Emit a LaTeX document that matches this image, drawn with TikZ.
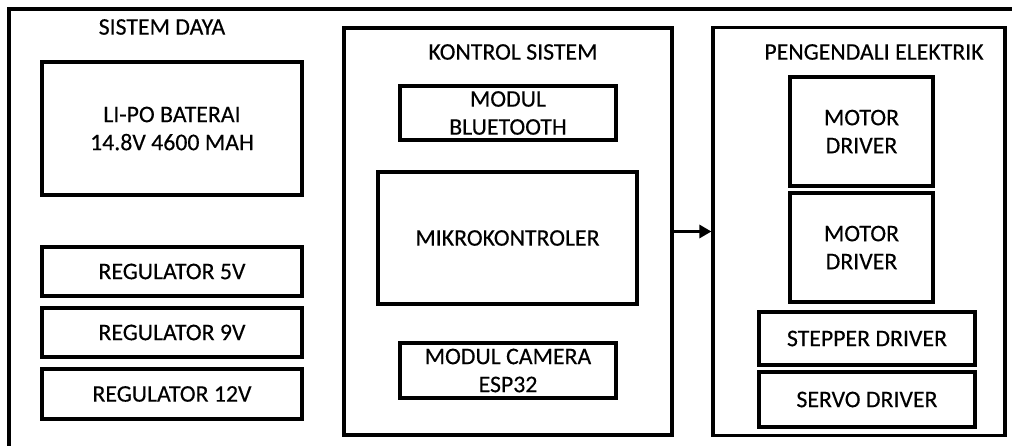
\documentclass[tikz,border=0pt]{standalone}
\usepackage{fontspec}
\setmainfont[FakeBold=0.3]{Carlito}
\usetikzlibrary{arrows.meta}

\tikzset{
  kotak/.style 2 args={draw, line width=1.6pt, align=center, inner sep=0pt,
    minimum width=#1*0.5pt, minimum height=#2*0.5pt},
  judul/.style={inner sep=0pt}
}

\begin{document}
\begin{tikzpicture}[x=0.5pt, y=-0.5pt, font=\fontsize{11.9}{14}\selectfont]
  \useasboundingbox (0,0) rectangle (1012,445);

  % bingkai luar
  \draw[line width=2pt] (9,450) -- (9,9) -- (1020,9);

  % sistem daya
  \node[judul] (daya) at (162,27) {SISTEM DAYA};
  \node[kotak={260}{133}] (baterai) at (172,128.5) {LI-PO BATERAI\\14.8V 4600 MAH};
  \node[kotak={260}{49}] (reg5) at (172,271.5) {REGULATOR 5V};
  \node[kotak={260}{49}] (reg9) at (172,332.5) {REGULATOR 9V};
  \node[kotak={260}{50}] (reg12) at (172,394) {REGULATOR 12V};

  % kontrol sistem
  \node[kotak={328}{407}] (kontrol) at (508,231.5) {};
  \node[judul] (judulkontrol) at (513,52) {KONTROL SISTEM};
  \node[kotak={216}{54}] (bluetooth) at (508,113) {MODUL\\BLUETOOTH};
  \node[kotak={259}{132}] (mikro) at (507.5,238) {MIKROKONTROLER};
  \node[kotak={216}{55}] (kamera) at (508,370.5) {MODUL CAMERA\\ESP32};

  % pengendali elektrik
  \node[kotak={292}{408}] (pengendali) at (859,231.5) {};
  \node[judul] (judulpengendali) at (874,52) {PENGENDALI ELEKTRIK};
  \node[kotak={143}{109}] (motor1) at (861.5,131.5) {MOTOR\\DRIVER};
  \node[kotak={143}{109}] (motor2) at (861.5,247.5) {MOTOR\\DRIVER};
  \node[kotak={216}{53}] (stepper) at (867,338.5) {STEPPER DRIVER};
  \node[kotak={216}{55}] (servo) at (867,399.5) {SERVO DRIVER};

  \draw[line width=1.6pt, -{Triangle[length=6pt,width=6.5pt]}] (kontrol.east) -- (pengendali.west);
\end{tikzpicture}
\end{document}
